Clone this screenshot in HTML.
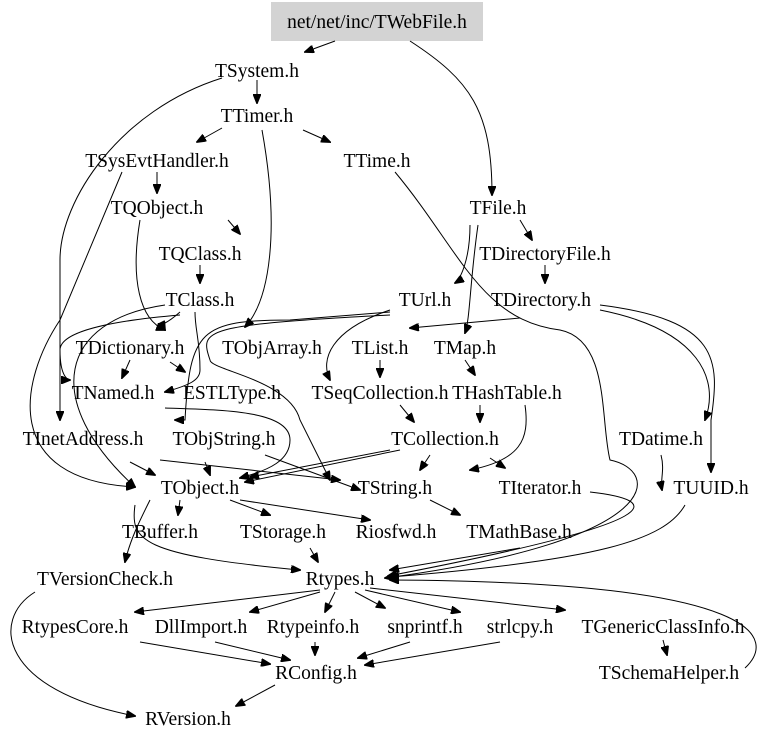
<!DOCTYPE html>
<html><head><meta charset="utf-8"><style>
html,body{margin:0;padding:0;background:#fff;}
svg{display:block;}
text{font-family:"Liberation Serif",serif;font-size:19.5px;fill:#000;text-anchor:middle;}
path,line{stroke:#000;stroke-width:1;fill:none;}
</style></head><body>
<svg width="768" height="743" viewBox="0 0 768 743" xmlns="http://www.w3.org/2000/svg">
<defs><marker id="a" markerWidth="10" markerHeight="8" refX="9" refY="4" orient="auto" markerUnits="userSpaceOnUse"><path d="M0,0 L10,4 L0,8 Z" style="fill:#000;stroke:#000"/></marker></defs>
<rect x="271" y="2" width="212" height="39" fill="#d3d3d3"/>
<g marker-end="url(#a)">
<path d="M335,41 L305,52"/>
<path d="M410,41 C470,80 492,110 492,195"/>
<path d="M257,80 L257,103"/>
<path d="M222,78 C120,110 60,200 60,260 L60,420"/>
<path d="M222,128 L197,142"/>
<path d="M303,130 L330,142"/>
<path d="M262,130 C280,230 270,300 245,327"/>
<path d="M157,172 L157,193"/>
<path d="M122,172 L60,320 C20,380 0,480 135,487"/>
<path d="M395,172 C460,250 480,320 560,330 C610,340 600,420 610,460 C660,470 670,540 385,578"/>
<path d="M228,220 L240,234"/>
<path d="M140,220 C130,280 140,320 165,330"/>
<path d="M200,265 L200,283"/>
<path d="M165,305 C60,320 40,400 135,487"/>
<path d="M180,312 C160,330 160,320 165,330"/>
<path d="M195,312 C195,330 200,340 200,370 C200,380 190,385 165,392"/>
<path d="M180,315 C120,320 60,330 60,350 C60,380 70,380 70,380"/>
<path d="M470,225 C470,260 460,280 455,283"/>
<path d="M478,225 C470,280 470,320 465,333"/>
<path d="M520,220 L532,240"/>
<path d="M545,265 L545,283"/>
<path d="M520,318 L410,328"/>
<path d="M600,305 C720,320 720,360 711,420 L711,472"/>
<path d="M600,310 C700,330 720,380 705,420"/>
<path d="M390,310 C330,330 320,360 330,380"/>
<path d="M390,312 L290,320 C200,320 190,330 185,420 L175,420"/>
<path d="M390,315 C200,325 200,330 210,360 C210,370 290,380 300,420 L330,480"/>
<path d="M130,360 L122,378"/>
<path d="M170,362 L185,372"/>
<path d="M165,408 C220,410 290,410 290,440 C290,460 270,470 240,478"/>
<path d="M380,360 L380,377"/>
<path d="M465,360 L475,375"/>
<path d="M400,405 L414,422"/>
<path d="M480,405 L480,422"/>
<path d="M130,462 L155,475"/>
<path d="M160,460 L340,480"/>
<path d="M205,462 L210,475"/>
<path d="M265,455 L360,490"/>
<path d="M400,450 L245,482"/>
<path d="M390,450 L250,477"/>
<path d="M430,455 L420,470"/>
<path d="M490,458 L505,468"/>
<path d="M525,405 C530,440 520,460 470,470"/>
<path d="M661,455 C665,470 660,480 662,490"/>
<path d="M180,500 L178,515"/>
<path d="M150,500 C140,520 130,540 125,562"/>
<path d="M230,500 L270,515"/>
<path d="M240,500 L370,520"/>
<path d="M135,505 C130,540 140,555 300,570"/>
<path d="M430,500 L460,515"/>
<path d="M310,548 L318,562"/>
<path d="M520,548 L390,570"/>
<path d="M590,492 C660,500 680,520 388,576"/>
<path d="M685,505 C665,540 600,560 390,577"/>
<path d="M320,590 L135,612"/>
<path d="M320,592 L250,612"/>
<path d="M335,592 L325,612"/>
<path d="M355,592 L385,608"/>
<path d="M365,590 L460,612"/>
<path d="M370,588 L565,610"/>
<path d="M745,668 C775,640 770,582 390,580"/>
<path d="M663,640 L667,655"/>
<path d="M140,642 L270,664"/>
<path d="M215,642 L290,660"/>
<path d="M315,642 L315,655"/>
<path d="M410,642 L358,658"/>
<path d="M500,642 L365,665"/>
<path d="M275,685 L236,706"/>
<path d="M35,592 C-10,620 0,690 135,716"/>
</g>
<text x="377" y="28">net/net/inc/TWebFile.h</text>
<text x="257" y="77">TSystem.h</text>
<text x="257" y="122">TTimer.h</text>
<text x="157" y="167">TSysEvtHandler.h</text>
<text x="377" y="167">TTime.h</text>
<text x="157" y="214">TQObject.h</text>
<text x="498" y="214">TFile.h</text>
<text x="200" y="260">TQClass.h</text>
<text x="545" y="260">TDirectoryFile.h</text>
<text x="200" y="306">TClass.h</text>
<text x="425" y="306">TUrl.h</text>
<text x="541" y="306">TDirectory.h</text>
<text x="130" y="354">TDictionary.h</text>
<text x="272" y="354">TObjArray.h</text>
<text x="380" y="354">TList.h</text>
<text x="465" y="354">TMap.h</text>
<text x="113" y="399">TNamed.h</text>
<text x="232" y="399">ESTLType.h</text>
<text x="380" y="399">TSeqCollection.h</text>
<text x="507" y="399">THashTable.h</text>
<text x="83" y="445">TInetAddress.h</text>
<text x="224" y="445">TObjString.h</text>
<text x="445" y="445">TCollection.h</text>
<text x="661" y="445">TDatime.h</text>
<text x="200" y="494">TObject.h</text>
<text x="395" y="494">TString.h</text>
<text x="540" y="494">TIterator.h</text>
<text x="711" y="494">TUUID.h</text>
<text x="160" y="538">TBuffer.h</text>
<text x="283" y="538">TStorage.h</text>
<text x="396" y="538">Riosfwd.h</text>
<text x="519" y="538">TMathBase.h</text>
<text x="105" y="585">TVersionCheck.h</text>
<text x="340" y="585">Rtypes.h</text>
<text x="75" y="633">RtypesCore.h</text>
<text x="201" y="633">DllImport.h</text>
<text x="313" y="633">Rtypeinfo.h</text>
<text x="425" y="633">snprintf.h</text>
<text x="520" y="633">strlcpy.h</text>
<text x="663" y="633">TGenericClassInfo.h</text>
<text x="316" y="679">RConfig.h</text>
<text x="669" y="679">TSchemaHelper.h</text>
<text x="188" y="725">RVersion.h</text>
</svg>
</body></html>
